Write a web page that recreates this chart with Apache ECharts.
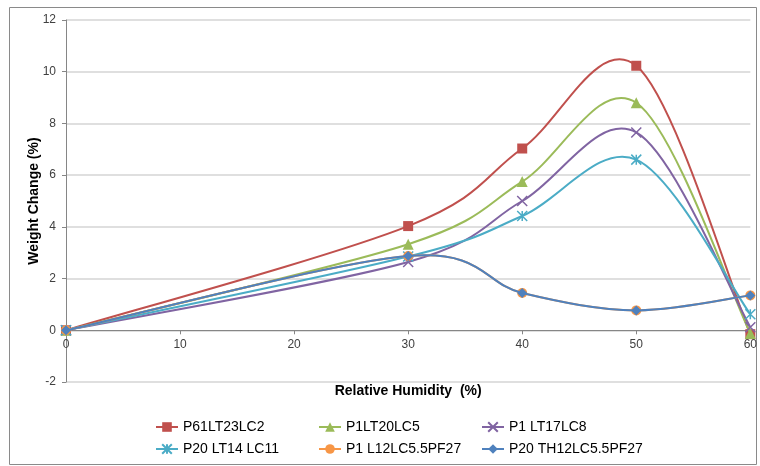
<!DOCTYPE html>
<html><head><meta charset="utf-8">
<script src="https://cdn.jsdelivr.net/npm/echarts@6/dist/echarts.min.js"></script>
<style>html,body{margin:0;padding:0;background:#fff}#c{width:760px;height:466px}</style>
</head><body><div id="c"></div>
<script>
const humidity = [0, 30, 40, 50, 60];
const seriesNames = ['P61LT23LC2', 'P1LT20LC5', 'P1 LT17LC8', 'P20 LT14 LC11', 'P1 L12LC5.5PF27', 'P20 TH12LC5.5PF27'];
const p61lt23lc2 = [0, 4.03, 7.03, 10.23, -0.15];
const p1lt20lc5 = [0, 3.33, 5.75, 8.8, -0.12];
const p1lt17lc8 = [0, 2.64, 5.0, 7.65, 0.12];
const p20lt14lc11 = [0, 2.85, 4.42, 6.6, 0.62];
const p1l12lc55pf27 = [0, 2.87, 1.44, 0.77, 1.35];
const p20th12lc55pf27 = [0, 2.87, 1.44, 0.77, 1.35];
const xTicks = [0, 10, 20, 30, 40, 50, 60];
const yTicks = [-2, 0, 2, 4, 6, 8, 10, 12];

const values = [p61lt23lc2, p1lt20lc5, p1lt17lc8, p20lt14lc11, p1l12lc55pf27, p20th12lc55pf27];
const colors = ['#C0504D', '#9BBB59', '#8064A2', '#4BACC6', '#F79646', '#4F81BD'];
const symbols = ['rect', 'triangle', 'path://M0,0L10,10M10,0L0,10', 'path://M5,0L5,10M0,0L10,10M10,0L0,10', 'circle', 'diamond'];
const sizes = [10, 11, 10, 10, 10, 10];
const font = 'Liberation Sans, Arial, sans-serif';

const series = [];
// smoothed curves (Excel-style cardinal spline through the points, via the axis scales)
seriesNames.forEach((n, i) => {
  const vals = values[i];
  series.push({
    type: 'custom', name: n + ' curve', silent: true, z: 2 + i * 2,
    data: humidity.map((x, j) => [x, vals[j]]),
    renderItem: function (params, api) {
      const j = params.dataIndex;
      const last = humidity.length - 1;
      if (j >= last) return null;
      const P = k => api.coord([humidity[Math.max(0, Math.min(last, k))], vals[Math.max(0, Math.min(last, k))]]);
      const p0 = P(j - 1), p1 = P(j), p2 = P(j + 1), p3 = P(j + 2);
      return {
        type: 'bezierCurve',
        shape: {
          x1: p1[0], y1: p1[1], x2: p2[0], y2: p2[1],
          cpx1: p1[0] + (p2[0] - p0[0]) / 6, cpy1: p1[1] + (p2[1] - p0[1]) / 6,
          cpx2: p2[0] - (p3[0] - p1[0]) / 6, cpy2: p2[1] - (p3[1] - p1[1]) / 6
        },
        style: { stroke: colors[i], lineWidth: 2, fill: null }
      };
    }
  });
});
// markers
seriesNames.forEach((n, i) => {
  const stroked = i === 2 || i === 3;
  series.push({
    name: n, type: 'line', smooth: false,
    data: humidity.map((x, j) => [x, values[i][j]]),
    symbol: symbols[i], symbolSize: sizes[i], showAllSymbol: true,
    lineStyle: { color: colors[i], width: 2, opacity: 0 },
    itemStyle: stroked ? { color: 'rgba(0,0,0,0)', borderColor: colors[i], borderWidth: 1.5 } : { color: colors[i] },
    z: 3 + i * 2
  });
});

const legendItem = i => ({ name: seriesNames[i], lineStyle: { color: colors[i], width: 2, opacity: 1 } });
const legendBase = {
  orient: 'vertical', top: 415, itemGap: 8, itemWidth: 22, itemHeight: 12,
  selectedMode: false, textStyle: { fontFamily: font, fontSize: 14, color: '#000' }
};

const chart = echarts.init(document.getElementById('c'));
chart.setOption({
  animation: false,
  backgroundColor: '#fff',
  graphic: [{ type: 'rect', shape: { x: 9.5, y: 7.5, width: 747, height: 457 }, style: { fill: 'none', stroke: '#8a8a8a', lineWidth: 1 }, silent: true }],
  grid: { left: 66, right: 7, top: 20, bottom: 84, containLabel: false },
  legend: [
    Object.assign({ left: 150, data: [legendItem(0), legendItem(3)] }, legendBase),
    Object.assign({ left: 313, data: [legendItem(1), legendItem(4)] }, legendBase),
    Object.assign({ left: 476, data: [legendItem(2), legendItem(5)] }, legendBase)
  ],
  xAxis: {
    type: 'value', min: xTicks[0], max: xTicks[xTicks.length - 1], interval: 10,
    offset: -51.7,
    name: 'Relative Humidity  (%)', nameLocation: 'middle', nameGap: 54, nameMoveOverlap: false,
    nameTextStyle: { fontFamily: font, fontSize: 14, fontWeight: 'bold', color: '#000' },
    axisLine: { onZero: false, lineStyle: { color: '#868686', width: 1 } },
    axisTick: { show: true, length: 4, lineStyle: { color: '#868686' } },
    axisLabel: { fontFamily: font, fontSize: 12, color: '#404040', margin: 8 },
    splitLine: { show: false }
  },
  yAxis: {
    type: 'value', min: yTicks[0], max: yTicks[yTicks.length - 1], interval: 2,
    name: 'Weight Change (%)', nameLocation: 'middle', nameGap: 25, nameRotate: 90, nameMoveOverlap: false,
    nameTextStyle: { fontFamily: font, fontSize: 14, fontWeight: 'bold', color: '#000' },
    axisLine: { show: true, lineStyle: { color: '#868686', width: 1 } },
    axisTick: { show: true, length: 4, lineStyle: { color: '#868686' } },
    axisLabel: { fontFamily: font, fontSize: 12, color: '#404040', margin: 10 },
    splitLine: { show: true, lineStyle: { color: '#d4d4d4', width: 1.5 } }
  },
  series: series
});
</script></body></html>
